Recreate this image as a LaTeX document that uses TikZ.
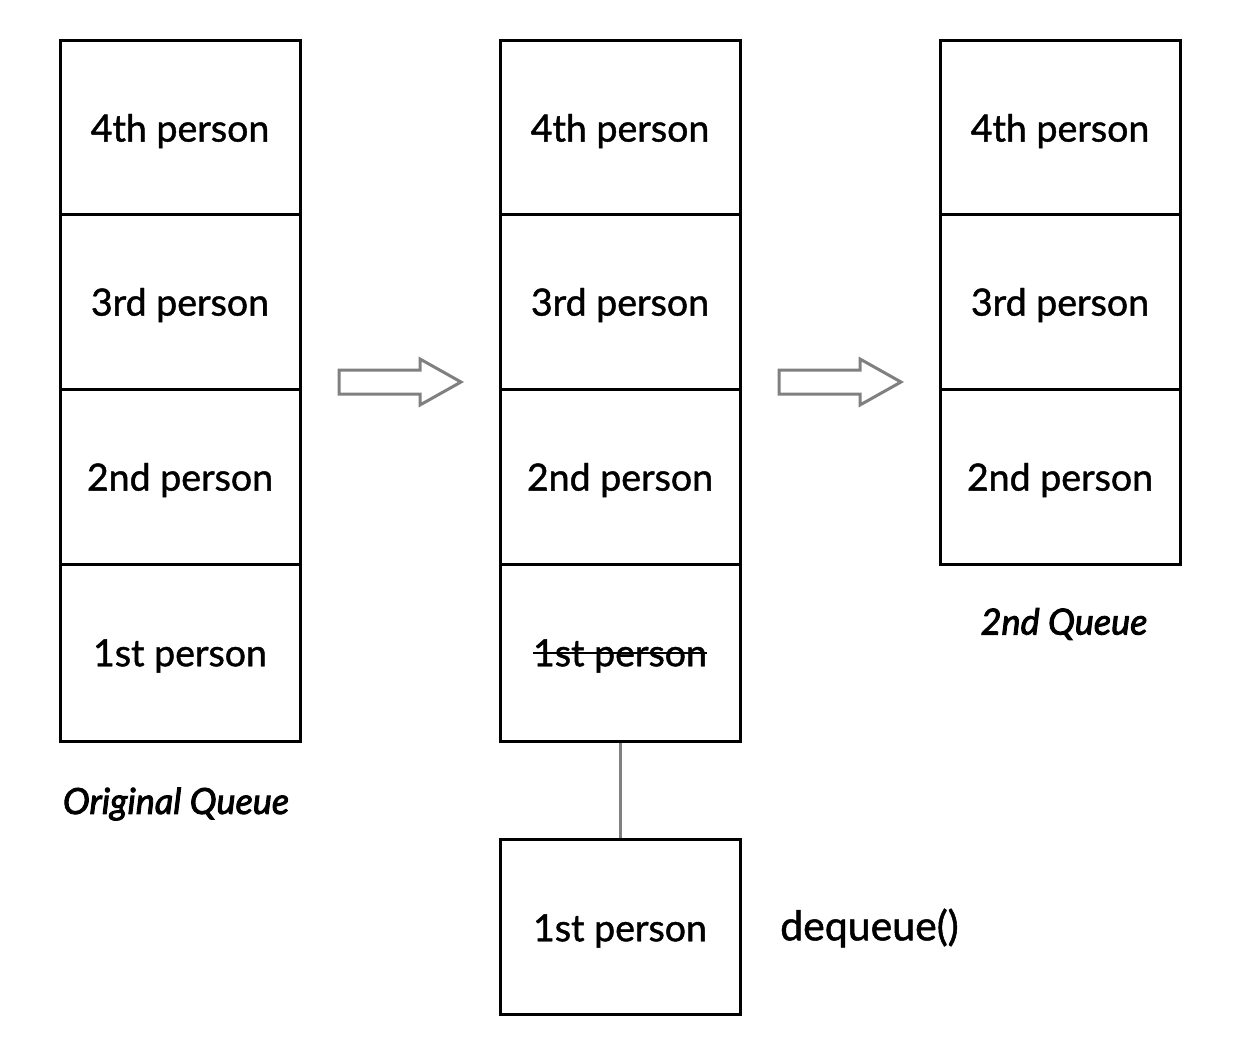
\documentclass[tikz,border=0pt]{standalone}
\usepackage{fontspec}
\setmainfont{Lato}[FakeBold=1.2]
\newfontfamily\lblfont{Lato}[FakeBold=2.5]
\begin{document}
\begin{tikzpicture}[x=1pt,y=-1pt,
  cell/.style={draw=black,line width=3pt,minimum width=240pt,inner sep=0pt},
  txt/.style={font=\fontsize{37.5}{40}\selectfont,inner sep=0pt},
  lbl/.style={font=\lblfont\fontsize{36}{39}\selectfont\itshape,inner sep=0pt},
  bigarrow/.style={draw=gray,line width=3pt,fill=white,line join=miter},
  conn/.style={draw=gray,line width=3pt}]
\useasboundingbox (0,0) rectangle (1240,1055);
% column 1
\node[cell,minimum height=174pt] (a4) at (180,127) {};
\node[cell,minimum height=175pt] (a3) at (180,301.5) {};
\node[cell,minimum height=175pt] (a2) at (180,476.5) {};
\node[cell,minimum height=177pt] (a1) at (180,652.5) {};
\node[txt] (a4t) at (180,131) {4th person};
\node[txt] (a3t) at (180,305) {3rd person};
\node[txt] (a2t) at (180,480) {2nd person};
\node[txt] (a1t) at (180,656) {1st person};
\node[lbl] (la) at (176,804) {Original Queue};
% column 2
\node[cell,minimum height=174pt] (b4) at (620,127) {};
\node[cell,minimum height=175pt] (b3) at (620,301.5) {};
\node[cell,minimum height=175pt] (b2) at (620,476.5) {};
\node[cell,minimum height=177pt] (b1) at (620,652.5) {};
\node[txt] (b4t) at (620,131) {4th person};
\node[txt] (b3t) at (620,305) {3rd person};
\node[txt] (b2t) at (620,480) {2nd person};
\node[txt] (b1t) at (620,656) {1st person};
\draw[line width=2pt] (b1t.west |- 0,653) coordinate (s1) -- (b1t.east |- 0,653) coordinate (s2);
\node[cell,minimum height=175pt] (c1) at (620,926.5) {};
\node[txt] (c1t) at (620,931) {1st person};
\node[txt,font=\fontsize{41}{44}\selectfont,anchor=west] (dq) at (780,928) {dequeue()};
\draw[conn] (b1.south) -- (c1.north);
% column 3
\node[cell,minimum height=174pt] (d4) at (1060,127) {};
\node[cell,minimum height=175pt] (d3) at (1060,301.5) {};
\node[cell,minimum height=175pt] (d2) at (1060,476.5) {};
\node[txt] (d4t) at (1060,131) {4th person};
\node[txt] (d3t) at (1060,305) {3rd person};
\node[txt] (d2t) at (1060,480) {2nd person};
\node[lbl] (ld) at (1064,624) {2nd Queue};
% arrows
\draw[bigarrow] (339,370) -- (420,370) -- (420,359) -- (461,382) -- (420,405) -- (420,394) -- (339,394) -- cycle;
\draw[bigarrow] (779,370) -- (860,370) -- (860,359) -- (901,382) -- (860,405) -- (860,394) -- (779,394) -- cycle;
\end{tikzpicture}
\end{document}
